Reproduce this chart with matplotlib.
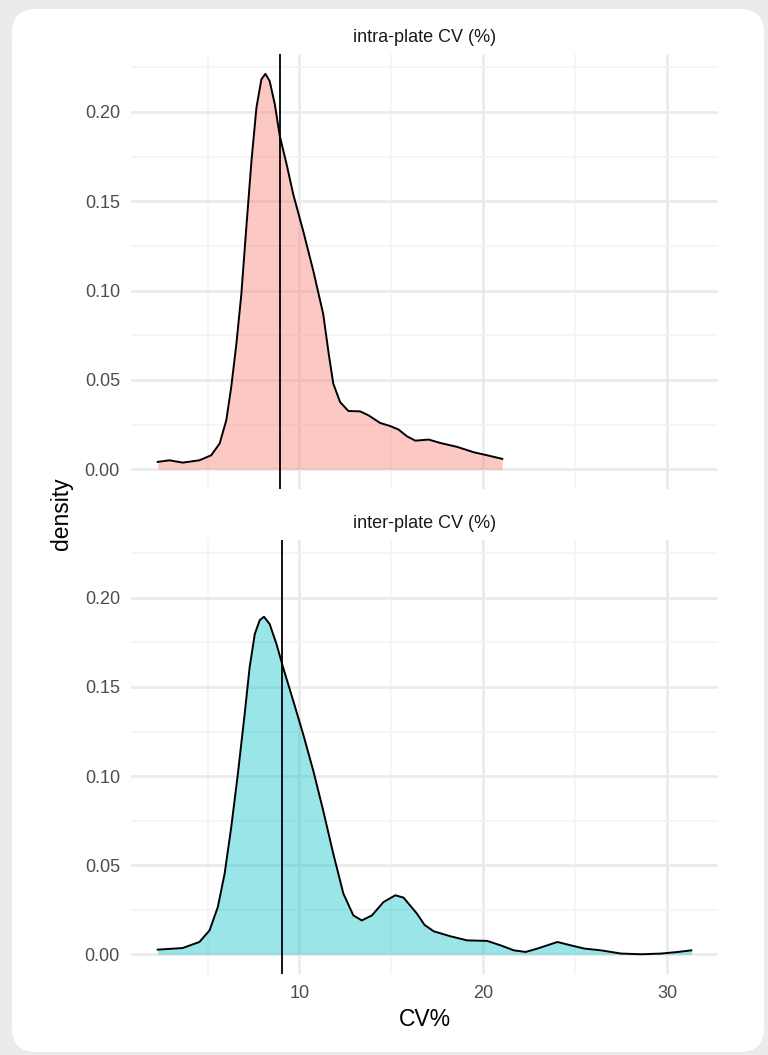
import numpy as np
import matplotlib
matplotlib.use('Agg')
import matplotlib.pyplot as plt
from matplotlib.patches import FancyBboxPatch
from matplotlib.transforms import IdentityTransform

plt.rcParams['font.family'] = ['Liberation Sans', 'DejaVu Sans']

# kernel density curves of CV%, one per facet
intra_x = [2.29, 2.93, 3.65, 4.56, 5.20, 5.66, 6.02, 6.29, 6.57, 6.84, 7.11, 7.39, 7.66, 7.93,
           8.15, 8.38, 8.66, 8.93, 9.30, 9.66, 10.20, 10.75, 11.29, 11.60, 11.84, 12.21, 12.66,
           13.30, 13.75, 14.39, 14.93, 15.39, 15.85, 16.30, 17.03, 17.66, 18.58, 19.48, 20.21,
           21.03]
intra_y = [0.0041, 0.0050, 0.0037, 0.0050, 0.0078, 0.0144, 0.0274, 0.0460, 0.0702, 0.0981,
           0.1354, 0.1726, 0.2024, 0.2183, 0.2214, 0.2173, 0.2043, 0.1866, 0.1708, 0.1540,
           0.1335, 0.1112, 0.0870, 0.0640, 0.0479, 0.0376, 0.0326, 0.0324, 0.0302, 0.0259,
           0.0242, 0.0222, 0.0184, 0.0160, 0.0166, 0.0147, 0.0125, 0.0095, 0.0078, 0.0058]

inter_x = [2.29, 3.65, 4.56, 5.11, 5.56, 5.93, 6.29, 6.65, 7.02, 7.29, 7.57, 7.84, 8.07, 8.38,
           8.75, 9.11, 9.66, 10.20, 10.75, 11.29, 11.84, 12.39, 12.93, 13.39, 13.94, 14.57,
           15.21, 15.66, 16.39, 16.80, 17.30, 18.21, 19.12, 20.21, 20.94, 21.66, 22.30, 22.94,
           24.03, 24.76, 25.49, 26.40, 27.49, 28.58, 29.67, 30.58, 31.31]
inter_y = [0.0026, 0.0035, 0.0069, 0.0134, 0.0265, 0.0452, 0.0713, 0.1012, 0.1348, 0.1610,
           0.1797, 0.1875, 0.1894, 0.1853, 0.1741, 0.1610, 0.1423, 0.1236, 0.1031, 0.0807,
           0.0564, 0.0340, 0.0218, 0.0190, 0.0218, 0.0293, 0.0331, 0.0318, 0.0228, 0.0165,
           0.0129, 0.0101, 0.0078, 0.0075, 0.0050, 0.0022, 0.0013, 0.0032, 0.0069, 0.0050,
           0.0032, 0.0022, 0.0004, 0.0000, 0.0004, 0.0013, 0.0022]

# median CV per facet
intra_med = 8.95
inter_med = 9.07

panels = ['intra-plate CV (%)', 'inter-plate CV (%)']
fills = ['#F8766D', '#00BFC4']

W, H = 768, 1055
fig = plt.figure(figsize=(W / 100, H / 100), dpi=100, facecolor='#ebebeb')
card = FancyBboxPatch((12, 3), 752, 1043, boxstyle='round,pad=0,rounding_size=24',
                      transform=IdentityTransform(), facecolor='white', edgecolor='none', zorder=-5)
fig.patches.append(card)

# shared scales, ggplot-style 5% expansion
allx = intra_x + inter_x
xr = max(allx) - min(allx)
xlim = (min(allx) - 0.05 * xr, max(allx) + 0.05 * xr)
ymax = max(intra_y + inter_y)
ylim = (-0.05 * ymax, 1.05 * ymax)

left, width = 131 / W, 587 / W
boxes = [(1 - 489 / H, 435 / H), (1 - 974 / H, 434 / H)]
data = [(intra_x, intra_y, intra_med), (inter_x, inter_y, inter_med)]

for i, ((xs, ys, med), (b, h)) in enumerate(zip(data, boxes)):
    ax = fig.add_axes([left, b, width, h])
    ax.set_facecolor('none')
    ax.set_xlim(xlim); ax.set_ylim(ylim)
    ax.set_xticks([10, 20, 30]); ax.set_xticks([5, 15, 25], minor=True)
    ax.set_yticks([0, 0.05, 0.10, 0.15, 0.20]); ax.set_yticks([0.025, 0.075, 0.125, 0.175, 0.225], minor=True)
    ax.set_yticklabels(['0.00', '0.05', '0.10', '0.15', '0.20'])
    ax.grid(which='major', color='#ebebeb', lw=2.0)
    ax.grid(which='minor', color='#f4f4f4', lw=1.2)
    ax.set_axisbelow(True)
    for s in ax.spines.values(): s.set_visible(False)
    ax.tick_params(which='both', length=0, labelsize=13, labelcolor='#4d4d4d', pad=8)
    if i == 0:
        ax.tick_params(labelbottom=False)
    ax.fill_between(xs, ys, 0, color=fills[i], alpha=0.4, lw=0)
    ax.plot(xs, ys, color='black', lw=1.4, solid_joinstyle='round')
    ax.axvline(med, color='black', lw=1.3)
    fig.text(left + width / 2, b + h + 17 / H, panels[i], ha='center', va='center',
             fontsize=13, color='#1a1a1a')

fig.text(left + width / 2, 1 - 1020 / H, 'CV%', ha='center', va='center', fontsize=16.5)
fig.text(62 / W, 1 - 514 / H, 'density', ha='center', va='center', rotation=90, fontsize=16.5)

fig.savefig('out.png', dpi=100, facecolor=fig.get_facecolor())
